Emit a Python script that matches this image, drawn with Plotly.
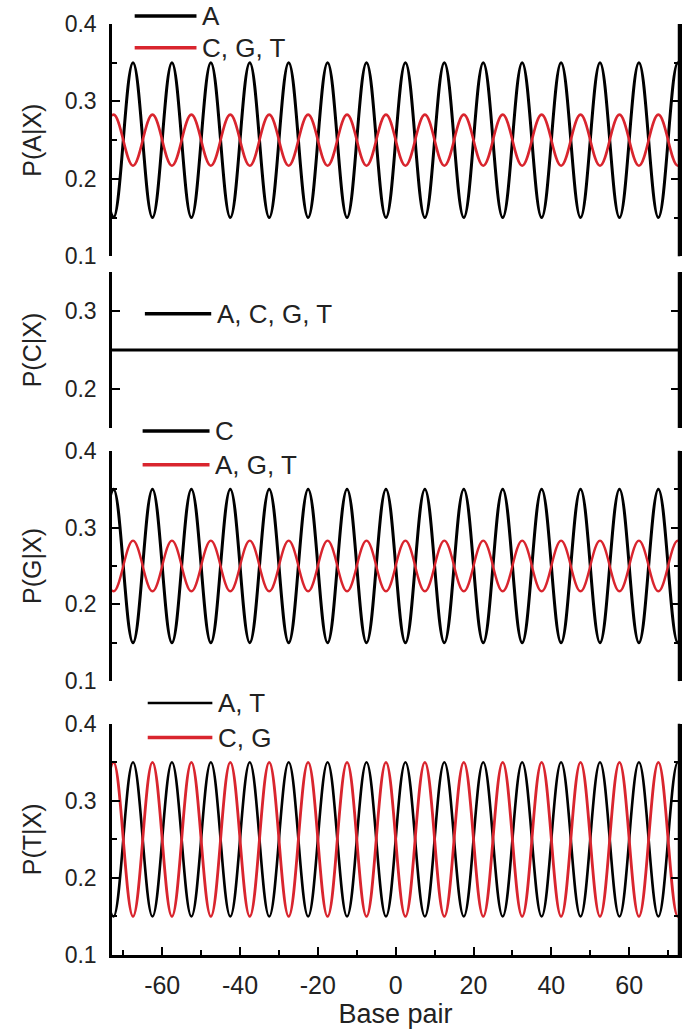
import plotly.graph_objects as go

# ---- data ----
# positions (bp) of the alternating extrema of the oscillating curves
bp = [-77.5, -72.5, -67.5, -62.5, -57.5, -52.5, -47.5, -42.5, -37.5, -32.5,
      -27.5, -22.5, -17.5, -12.5, -7.5, -2.5, 2.5, 7.5, 12.5, 17.5,
      22.5, 27.5, 32.5, 37.5, 42.5, 47.5, 52.5, 57.5, 62.5, 67.5, 72.5, 77.5]

# P(A|X)
pA_A = [0.35, 0.15, 0.35, 0.15, 0.35, 0.15, 0.35, 0.15, 0.35, 0.15,
        0.35, 0.15, 0.35, 0.15, 0.35, 0.15, 0.35, 0.15, 0.35, 0.15,
        0.35, 0.15, 0.35, 0.15, 0.35, 0.15, 0.35, 0.15, 0.35, 0.15, 0.35, 0.15]
pA_CGT = [0.217, 0.283, 0.217, 0.283, 0.217, 0.283, 0.217, 0.283, 0.217, 0.283,
          0.217, 0.283, 0.217, 0.283, 0.217, 0.283, 0.217, 0.283, 0.217, 0.283,
          0.217, 0.283, 0.217, 0.283, 0.217, 0.283, 0.217, 0.283, 0.217, 0.283, 0.217, 0.283]

# P(C|X)
bp_flat = [-77.5, 77.5]
pC_ACGT = [0.25, 0.25]

# P(G|X)
pG_C = [0.15, 0.35, 0.15, 0.35, 0.15, 0.35, 0.15, 0.35, 0.15, 0.35,
        0.15, 0.35, 0.15, 0.35, 0.15, 0.35, 0.15, 0.35, 0.15, 0.35,
        0.15, 0.35, 0.15, 0.35, 0.15, 0.35, 0.15, 0.35, 0.15, 0.35, 0.15, 0.35]
pG_AGT = [0.283, 0.217, 0.283, 0.217, 0.283, 0.217, 0.283, 0.217, 0.283, 0.217,
          0.283, 0.217, 0.283, 0.217, 0.283, 0.217, 0.283, 0.217, 0.283, 0.217,
          0.283, 0.217, 0.283, 0.217, 0.283, 0.217, 0.283, 0.217, 0.283, 0.217, 0.283, 0.217]

# P(T|X)
pT_AT = [0.35, 0.15, 0.35, 0.15, 0.35, 0.15, 0.35, 0.15, 0.35, 0.15,
         0.35, 0.15, 0.35, 0.15, 0.35, 0.15, 0.35, 0.15, 0.35, 0.15,
         0.35, 0.15, 0.35, 0.15, 0.35, 0.15, 0.35, 0.15, 0.35, 0.15, 0.35, 0.15]
pT_CG = [0.15, 0.35, 0.15, 0.35, 0.15, 0.35, 0.15, 0.35, 0.15, 0.35,
         0.15, 0.35, 0.15, 0.35, 0.15, 0.35, 0.15, 0.35, 0.15, 0.35,
         0.15, 0.35, 0.15, 0.35, 0.15, 0.35, 0.15, 0.35, 0.15, 0.35, 0.15, 0.35]

y_titles = ["P(A|X)", "P(C|X)", "P(G|X)", "P(T|X)"]
x_title = "Base pair"
x_ticks = [-60, -40, -20, 0, 20, 40, 60]
x_ticklabels = ["-60", "-40", "-20", "0", "20", "40", "60"]

RED = "#d9252e"
BLACK = "#000000"
FONT = "Arial, Liberation Sans, Helvetica, sans-serif"
TXT = "#222222"

XN = ["x", "x2", "x3", "x4"]
YN = ["y", "y2", "y3", "y4"]

fig = go.Figure()


def add(x, y, color, width, panel, name):
    fig.add_trace(go.Scatter(
        x=x, y=y, mode="lines", name=name,
        line=dict(color=color, width=width, shape="spline", smoothing=1.1),
        xaxis=XN[panel], yaxis=YN[panel], showlegend=False, hoverinfo="skip"))


add(bp, pA_A, BLACK, 3, 0, "A")
add(bp, pA_CGT, RED, 2.6, 0, "C, G, T")
add(bp_flat, pC_ACGT, BLACK, 3, 1, "A, C, G, T")
add(bp, pG_C, BLACK, 3, 2, "C")
add(bp, pG_AGT, RED, 2.4, 2, "A, G, T")
add(bp, pT_AT, BLACK, 2.6, 3, "A, T")
add(bp, pT_CG, RED, 2.8, 3, "C, G")

# ---- layout ----
domains = [[0.7505, 1.0], [0.5661, 0.7335], [0.2942, 0.5416], [0.0, 0.2484]]
ranges = [[0.1, 0.4], [0.15, 0.35], [0.1, 0.4], [0.1, 0.4]]
x_range = [-72.9, 72.8]

layout = dict(
    width=693, height=1031,
    margin=dict(l=112, r=11, t=23, b=70),
    paper_bgcolor="white", plot_bgcolor="white",
    font=dict(family=FONT, color=TXT, size=23),
    showlegend=False,
)

for i in range(4):
    ykey = "yaxis" if i == 0 else f"yaxis{i+1}"
    layout[ykey] = dict(
        domain=domains[i], range=ranges[i], anchor=XN[i], side="left",
        dtick=0.1, tick0=0, tickformat=".1f",
        showline=True, linecolor=BLACK, linewidth=2.5, mirror="ticks",
        ticks="inside", ticklen=8, tickwidth=2, tickcolor=BLACK,
        minor=dict(ticks="inside", dtick=0.05, tick0=0, ticklen=5,
                   tickwidth=2, tickcolor=BLACK),
        showgrid=False, zeroline=False,
        ticklabelstandoff=8,
        tickfont=dict(size=23, color=TXT, family=FONT),
        title=dict(text=y_titles[i], font=dict(size=25, color=TXT, family=FONT),
                   standoff=16),
    )
    if i < 3:
        xkey = "xaxis" if i == 0 else f"xaxis{i+1}"
        layout[xkey] = dict(
            domain=[0, 1], range=x_range, anchor=YN[i], matches="x4",
            showline=False, ticks="", showticklabels=False,
            showgrid=False, zeroline=False,
        )

layout["xaxis4"] = dict(
    domain=[0, 1], range=x_range, anchor="y4",
    tickmode="array", tickvals=x_ticks, ticktext=x_ticklabels,
    showline=True, linecolor=BLACK, linewidth=2.5, mirror=False,
    ticks="inside", ticklen=8, tickwidth=2, tickcolor=BLACK,
    minor=dict(ticks="inside", dtick=10, tick0=0, ticklen=5,
               tickwidth=2, tickcolor=BLACK),
    showgrid=False, zeroline=False,
    ticklabelstandoff=6,
    tickfont=dict(size=25, color=TXT, family=FONT),
    title=dict(text=x_title, font=dict(size=27, color=TXT, family=FONT),
               standoff=2),
)

fig.update_layout(**layout)

# right-hand frame line of every panel (backs up the mirrored axis line)
for i in range(4):
    fig.add_shape(type="line", xref=f"{XN[i]} domain", yref=f"{YN[i]} domain",
                  x0=1, x1=1, y0=0, y1=1,
                  line=dict(color=BLACK, width=2.5))

# ---- in-panel legends (key line + label) ----
legend_items = [
    # (x0, x1, y, color, width, label)
    (0.040, 0.149, 1.0085, BLACK, 3.5, "A"),
    (0.040, 0.149, 0.9744, RED, 3.5, "C, G, T"),
    (0.058, 0.175, 0.6887, BLACK, 3.5, "A, C, G, T"),
    (0.054, 0.172, 0.5629, BLACK, 3.5, "C"),
    (0.054, 0.172, 0.5267, RED, 3.5, "A, G, T"),
    (0.063, 0.177, 0.2708, BLACK, 2.5, "A, T"),
    (0.063, 0.177, 0.2335, RED, 3.5, "C, G"),
]
for x0, x1, yy, col, w, lab in legend_items:
    fig.add_shape(type="line", xref="paper", yref="paper",
                  x0=x0, x1=x1, y0=yy, y1=yy,
                  line=dict(color=col, width=w))
    fig.add_annotation(xref="paper", yref="paper", x=x1 + 0.006, y=yy,
                       xanchor="left", yanchor="middle", showarrow=False,
                       text=lab, font=dict(size=26, color=TXT, family=FONT))

fig.write_html("out.html",
               config={"displayModeBar": False},
               post_script="document.body.style.margin='0';"
                           "document.body.style.padding='0';"
                           "document.body.style.overflow='hidden';"
                           "document.documentElement.style.overflow='hidden';")
